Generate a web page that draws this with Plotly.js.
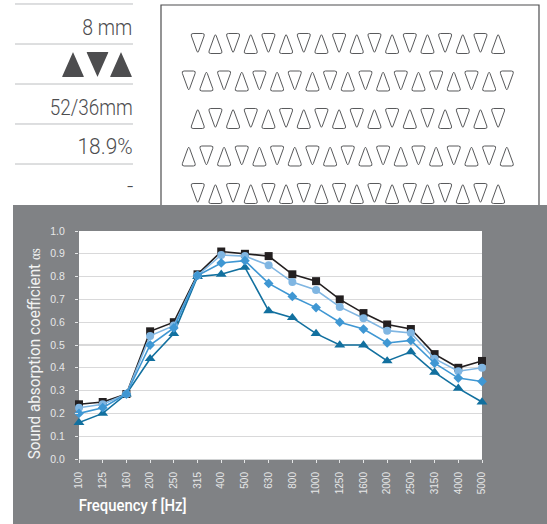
<!DOCTYPE html>
<html><head><meta charset="utf-8">
<script src="https://cdn.plot.ly/plotly-3.0.1.min.js"></script>
<style>html,body{margin:0;padding:0;background:#fff;overflow:hidden}</style></head>
<body><div id="chart" style="width:547px;height:524px"></div>
<script>
const categories = ["100","125","160","200","250","315","400","500","630","800","1000","1250","1600","2000","2500","3150","4000","5000"];
const seriesBlack    = [0.24,0.25,0.285,0.56,0.60,0.81,0.91,0.90,0.89,0.81,0.78,0.70,0.64,0.59,0.57,0.46,0.40,0.43];
const seriesLight    = [0.225,0.24,0.285,0.54,0.585,0.805,0.895,0.89,0.85,0.776,0.741,0.667,0.617,0.563,0.553,0.44,0.385,0.40];
const seriesDiamond  = [0.20,0.225,0.285,0.50,0.575,0.805,0.86,0.87,0.77,0.713,0.664,0.60,0.57,0.509,0.52,0.42,0.355,0.34];
const seriesTriangle = [0.16,0.20,0.285,0.44,0.55,0.80,0.81,0.84,0.65,0.62,0.55,0.50,0.50,0.43,0.47,0.38,0.31,0.25];
const specLabels = ["8 mm","52/36mm","18.9%","-"];
const specWidths = [50,83,55,6];
const specY = [27,107,147,187];
const ruleY = [4,44,84,124,164];
const rows = [
  {y:33.5,x:190.5,n:18,up:false},
  {y:71,  x:181.5,n:19,up:false},
  {y:108.5,x:190.5,n:18,up:true},
  {y:146, x:181.5,n:19,up:true},
  {y:183.5,x:190.5,n:18,up:false}
];
const W=547,H=524;
const px=x=>(x/W).toFixed(5), py=y=>(1-y/H).toFixed(5);
const SPEC='Roboto,sans-serif';
const SANS='"Liberation Sans",Arial,sans-serif';
function tri(x,y,w,h,up,r){
  const pts = up ? [[x+w/2,y],[x+w,y+h],[x,y+h]] : [[x,y],[x+w,y],[x+w/2,y+h]];
  let d='';
  for(let i=0;i<3;i++){
    const p=pts[i],a=pts[(i+2)%3],b=pts[(i+1)%3];
    const la=Math.hypot(a[0]-p[0],a[1]-p[1]),lb=Math.hypot(b[0]-p[0],b[1]-p[1]);
    const s=[p[0]+(a[0]-p[0])*r/la,p[1]+(a[1]-p[1])*r/la], e=[p[0]+(b[0]-p[0])*r/lb,p[1]+(b[1]-p[1])*r/lb];
    d+=(i?'L':'M')+px(s[0])+','+py(s[1])+'Q'+px(p[0])+','+py(p[1])+' '+px(e[0])+','+py(e[1]);
  }
  return d+'Z';
}
const shapes=[];
ruleY.forEach(y=>shapes.push({type:'line',xref:'paper',yref:'paper',x0:px(15),x1:px(133),y0:py(y),y1:py(y),line:{color:'#bcbec0',width:1},layer:'below'}));
[[62,false],[86.5,true],[110,false]].forEach(([x,down])=>{
  shapes.push({type:'path',xref:'paper',yref:'paper',layer:'below',path:tri(x,52,22,25,!down,0.5),fillcolor:'#4d4d4f',line:{width:0}});
});
shapes.push({type:'path',xref:'paper',yref:'paper',layer:'below',
  path:`M${px(161)},${py(230)}L${px(161)},${py(5)}L${px(539)},${py(5)}L${px(539)},${py(230)}`,
  line:{color:'#4d4d4f',width:1.2},fillcolor:'rgba(0,0,0,0)'});
const P=17.67;
rows.forEach(r=>{
  for(let i=0;i<r.n;i++){
    const up = (i%2===0)?r.up:!r.up;
    shapes.push({type:'path',xref:'paper',yref:'paper',layer:'below',
      path:tri(r.x+i*P,r.y,14.5,20,up,2.6),line:{color:'#58595b',width:1},fillcolor:'#ffffff'});
  }
});
shapes.push({type:'rect',xref:'paper',yref:'paper',layer:'below',x0:px(13),x1:px(547),y0:py(205),y1:py(524),fillcolor:'#808285',line:{width:0}});
shapes.push({type:'rect',xref:'paper',yref:'paper',layer:'below',x0:px(79),x1:px(482),y0:py(231),y1:py(459),fillcolor:'#ffffff',line:{width:0}});

const annotations = specLabels.map((t,i)=>({xref:'paper',yref:'paper',x:px(133-specWidths[i]/2),y:py(specY[i]),xanchor:'center',yanchor:'middle',
  text:t,showarrow:false,font:{family:SPEC,size:22,weight:300,color:'#4d4d4f'}}));
annotations.push({xref:'paper',yref:'paper',x:px(133),y:py(505),xanchor:'center',yanchor:'middle',text:'Frequency f [Hz]',showarrow:false,
  font:{family:SPEC,size:17,weight:500,color:'#ffffff'}});
annotations.push({xref:'paper',yref:'paper',x:px(34),y:py(353.5),xanchor:'center',yanchor:'middle',textangle:-90,showarrow:false,
  text:'Sound absorption coefficient <span style="font-family:\'Liberation Serif\',serif;font-size:14px">αs</span>',
  font:{family:SPEC,size:16.5,color:'#f1f2f2'}});

function trace(name,y,color,sym,size,w){
  return {type:'scatter',mode:'lines+markers',name,x:categories,y,cliponaxis:false,
    line:{color,width:w},marker:{color,symbol:sym,size}};
}
const data=[
  trace('Black',seriesBlack,'#231f20','square',8,1.6),
  trace('Triangle',seriesTriangle,'#12709f','triangle-up',9.5,1.6),
  trace('Light',seriesLight,'#80b6e2','circle',8,1.6),
  trace('Diamond',seriesDiamond,'#3f97d3','diamond',7.5,1.6)
];
const layout={
  width:W,height:H,margin:{l:0,r:0,t:0,b:0},paper_bgcolor:'#ffffff',plot_bgcolor:'rgba(0,0,0,0)',showlegend:false,
  shapes,annotations,
  xaxis:{domain:[79/W,482/W],type:'category',range:[0,17],categoryorder:'array',categoryarray:categories,
    showgrid:false,showline:true,linecolor:'#d1d3d4',linewidth:1,ticks:'outside',tickcolor:'#e6e7e8',ticklen:3,tickwidth:1,
    tickangle:-90,tickfont:{family:SANS,size:10,color:'#e6e7e8'},ticklabelstandoff:5,automargin:false,zeroline:false},
  yaxis:{domain:[1-459/H,1-231/H],range:[0,1],dtick:0.1,tickformat:'.1f',showgrid:true,gridcolor:'#d9d9da',gridwidth:1.3,
    showline:false,ticks:'outside',tickcolor:'#e6e7e8',ticklen:3,tickfont:{family:SANS,size:10.5,color:'#e6e7e8'},ticklabelstandoff:8,zeroline:false,automargin:false},
  font:{family:SANS}
};
Plotly.newPlot('chart',data,layout,{displayModeBar:false,staticPlot:true}).then(()=>{
  const squeeze=(el,len)=>{ if(el&&len){el.setAttribute('textLength',len);el.setAttribute('lengthAdjust','spacingAndGlyphs');} };
  const ann=document.querySelectorAll('.annotation-text');
  specWidths.forEach((w,i)=>{ if(specLabels[i]!=='-') squeeze(ann[i],w); });
  squeeze(ann[specLabels.length],108);
  squeeze(ann[specLabels.length+1],211);
});
</script></body></html>
